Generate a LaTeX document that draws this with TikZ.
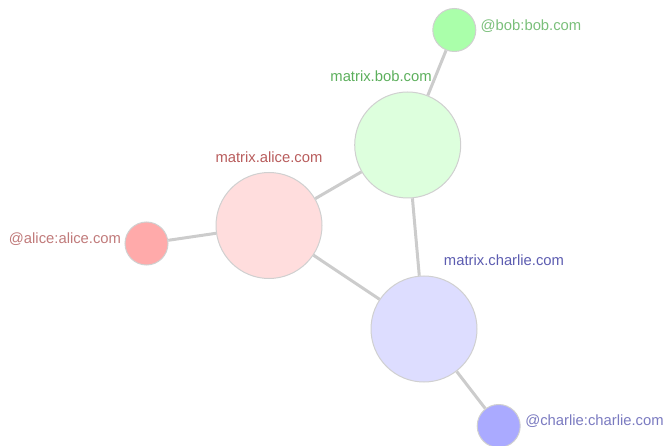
\documentclass[tikz,border=0pt]{standalone}
\usepackage{fontspec}
\setmainfont{Liberation Sans}
\definecolor{edgegray}{HTML}{CCCCCC}
\definecolor{bordergray}{HTML}{D0D0D0}
\definecolor{alicefill}{HTML}{FFDDDD}
\definecolor{bobfill}{HTML}{DDFFDD}
\definecolor{charliefill}{HTML}{DDDDFF}
\definecolor{aliceuser}{HTML}{FFAAAA}
\definecolor{bobuser}{HTML}{AAFFAA}
\definecolor{charlieuser}{HTML}{AAAAFF}
\definecolor{alicetext}{HTML}{B85C5C}
\definecolor{bobtext}{HTML}{5CAF5C}
\definecolor{charlietext}{HTML}{5C5CB0}
\definecolor{aliceutext}{HTML}{C07A7A}
\definecolor{bobutext}{HTML}{7ABF7A}
\definecolor{charlieutext}{HTML}{7A7AC0}
\tikzset{
  server/.style={circle, draw=bordergray, line width=1pt, minimum size=106pt, inner sep=0pt},
  user/.style={circle, draw=bordergray, line width=1pt, minimum size=43pt, inner sep=0pt},
  link/.style={draw=edgegray, line width=3pt},
  lbl/.style={font=\fontsize{14.8}{16}\selectfont, inner sep=0pt}
}
\begin{document}
\begin{tikzpicture}[x=1pt,y=-1pt]
\useasboundingbox (0,0) rectangle (666,446);
% nodes
\node[server, fill=alicefill] (as) at (269,225.5) {};
\node[server, fill=bobfill] (bs) at (407.7,145) {};
\node[server, fill=charliefill] (cs) at (424,329) {};
\node[user, fill=aliceuser] (au) at (146.5,243.5) {};
\node[user, fill=bobuser] (bu) at (454.3,30) {};
\node[user, fill=charlieuser] (cu) at (498.7,426) {};
% edges
\path[link] (as) -- (au);
\path[link] (as) -- (bs);
\path[link] (as) -- (cs);
\path[link] (bs) -- (bu);
\path[link] (bs) -- (cs);
\path[link] (cs) -- (cu);
% labels
\node[lbl, text=alicetext] (asl) at (269,157) {matrix.alice.com};
\node[lbl, text=bobtext] (bsl) at (381,76) {matrix.bob.com};
\node[lbl, text=charlietext] (csl) at (504,260) {matrix.charlie.com};
\node[lbl, text=aliceutext] (aul) at (65,239) {@alice:alice.com};
\node[lbl, text=bobutext] (bul) at (531,26) {@bob:bob.com};
\node[lbl, text=charlieutext] (cul) at (594.5,421) {@charlie:charlie.com};
\end{tikzpicture}
\end{document}
